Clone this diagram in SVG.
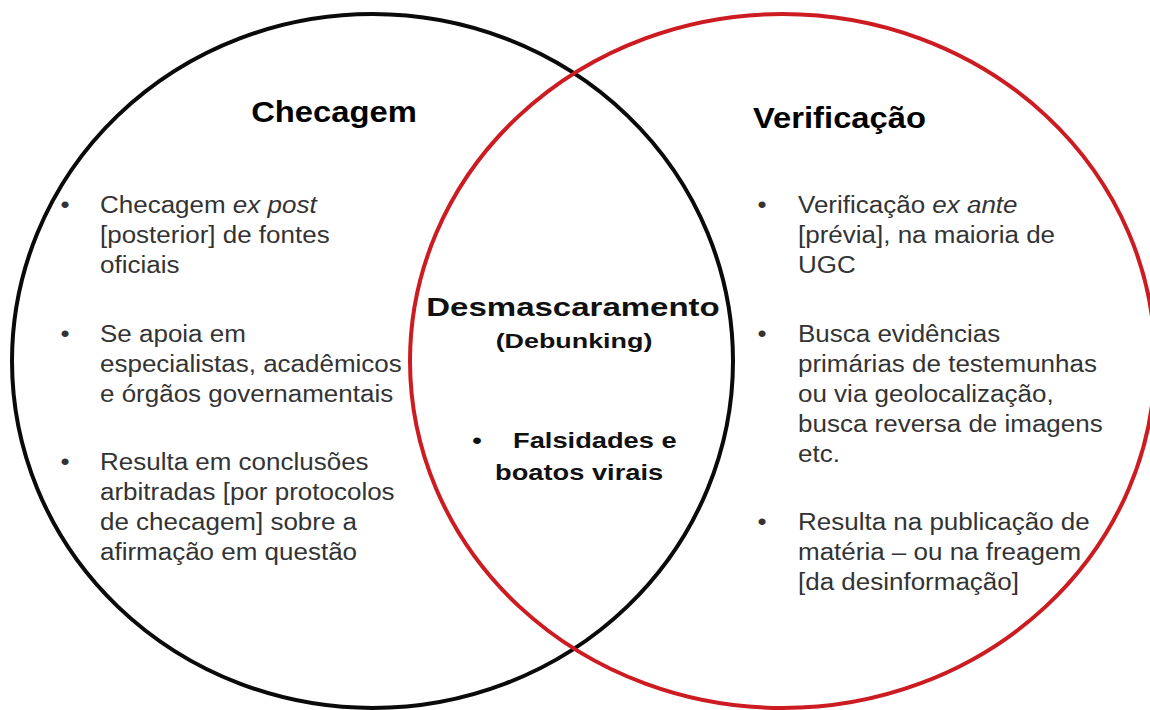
<svg xmlns="http://www.w3.org/2000/svg" width="1150" height="710" viewBox="0 0 1150 710">
<style>
.title{font-family:"Liberation Sans",Arial,sans-serif;font-weight:bold;font-size:29px;fill:#000}
.body{font-family:"Liberation Sans",Arial,sans-serif;font-size:23px;fill:#333}
.ctr{font-family:"Liberation Sans",Arial,sans-serif;font-weight:bold;fill:#111}
.ring{fill:none;stroke-width:4}
</style>
<rect width="1150" height="710" fill="#fff"/>
<g id="sets">
<ellipse id="set-checagem" class="ring" cx="372.5" cy="361" rx="360.5" ry="347" stroke="#0a0a0a"/>
<ellipse id="set-verificacao" class="ring" cx="782.5" cy="361" rx="372.5" ry="347" stroke="#cc1c22"/>
</g>
<g id="checagem">
<text class="title" text-anchor="middle" transform="translate(334 122) scale(1.13 1)">Checagem</text>
<g class="body">
<text class="body" text-anchor="middle" transform="translate(65 213) scale(1.13 1)">•</text>
<text class="body" text-anchor="middle" transform="translate(65 342) scale(1.13 1)">•</text>
<text class="body" text-anchor="middle" transform="translate(65 470) scale(1.13 1)">•</text>
<text class="body" transform="translate(100 213) scale(1.13 1)"><tspan x="0" y="0">Checagem <tspan font-style="italic">ex post</tspan></tspan><tspan x="0" y="30">[posterior] de fontes</tspan><tspan x="0" y="60">oficiais</tspan></text>
<text class="body" transform="translate(100 342) scale(1.13 1)"><tspan x="0" y="0">Se apoia em</tspan><tspan x="0" y="30">especialistas, acadêmicos</tspan><tspan x="0" y="60">e órgãos governamentais</tspan></text>
<text class="body" transform="translate(100 470) scale(1.13 1)"><tspan x="0" y="0">Resulta em conclusões</tspan><tspan x="0" y="30">arbitradas [por protocolos</tspan><tspan x="0" y="60">de checagem] sobre a</tspan><tspan x="0" y="90">afirmação em questão</tspan></text>
</g>
</g>
<g id="verificacao">
<text class="title" transform="translate(753 128) scale(1.13 1)">Verificação</text>
<text class="body" text-anchor="middle" transform="translate(762 213) scale(1.13 1)">•</text>
<text class="body" text-anchor="middle" transform="translate(762 342) scale(1.13 1)">•</text>
<text class="body" text-anchor="middle" transform="translate(762 530) scale(1.13 1)">•</text>
<text class="body" transform="translate(798 213) scale(1.13 1)"><tspan x="0" y="0">Verificação <tspan font-style="italic">ex ante</tspan></tspan><tspan x="0" y="30">[prévia], na maioria de</tspan><tspan x="0" y="60">UGC</tspan></text>
<text class="body" transform="translate(798 342) scale(1.13 1)"><tspan x="0" y="0">Busca evidências</tspan><tspan x="0" y="30">primárias de testemunhas</tspan><tspan x="0" y="60">ou via geolocalização,</tspan><tspan x="0" y="90">busca reversa de imagens</tspan><tspan x="0" y="120">etc.</tspan></text>
<text class="body" transform="translate(798 530) scale(1.13 1)"><tspan x="0" y="0">Resulta na publicação de</tspan><tspan x="0" y="30">matéria – ou na freagem</tspan><tspan x="0" y="60">[da desinformação]</tspan></text>
</g>
<g id="desmascaramento">
<text class="ctr" font-size="26" text-anchor="middle" transform="translate(573 316) scale(1.27 1)">Desmascaramento</text>
<text class="ctr" font-size="21" text-anchor="middle" transform="translate(574 348) scale(1.28 1)">(Debunking)</text>
<text class="ctr" font-size="22" text-anchor="middle" transform="translate(477 448) scale(1.24 1)">•</text>
<text class="ctr" font-size="22" transform="translate(513 448) scale(1.24 1)">Falsidades e</text>
<text class="ctr" font-size="22" transform="translate(495 480) scale(1.24 1)">boatos virais</text>
</g>
<g id="connectors"/>
</svg>
